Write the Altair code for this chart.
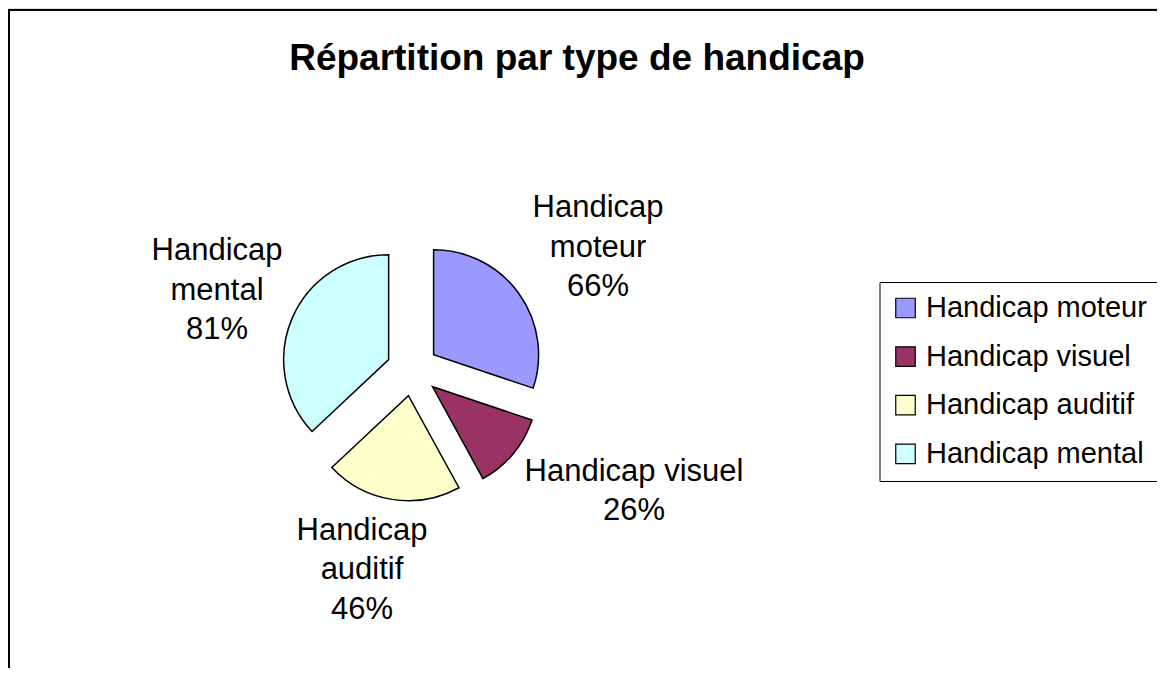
import altair as alt
import pandas as pd

# ---- data ----
TITLE = "Répartition par type de handicap"
CATS = ["Handicap moteur", "Handicap visuel", "Handicap auditif", "Handicap mental"]
VALUES = [66, 26, 46, 81]
COLORS = ["#9999FF", "#993366", "#FFFFCC", "#CCFFFF"]
ONE_LINE_NAME = ["Handicap visuel"]  # label where name is kept on one line

df = pd.DataFrame({"cat": CATS, "value": VALUES, "order": list(range(len(CATS)))})

# ---- layout ----
W, H = 1149, 660
CX, CY = 412.5 - 8, 370 - 8     # pie centre in view coordinates
R = 105                         # pie radius
EXPLODE = 26                    # explosion distance
LR = 170                        # label anchor radius
FONT = "Liberation Sans"
NUDGE = {
    "Handicap moteur": (47.6, -53.6),
    "Handicap visuel": (91, 2),
    "Handicap auditif": (-23.8, 2.1),
    "Handicap mental": (-39.5, -42.4),
}

xs = alt.Scale(domain=[-300, 300], range=[CX - 300, CX + 300], nice=False, zero=False)
ys = alt.Scale(domain=[-300, 300], range=[CY - 300, CY + 300], nice=False, zero=False)

base = (
    alt.Chart(df)
    .transform_joinaggregate(total="sum(value)")
    .transform_window(cum="sum(value)", sort=[alt.SortField("order")], frame=[None, 0])
    .transform_calculate(
        t0="(datum.cum - datum.value) / datum.total",
        t1="datum.cum / datum.total",
    )
    .transform_calculate(mid="(datum.t0 + datum.t1) * PI")
    .transform_calculate(
        ox=f"sin(datum.mid) * {EXPLODE}",
        oy=f"-cos(datum.mid) * {EXPLODE}",
        lx=f"sin(datum.mid) * {LR}",
        ly=f"-cos(datum.mid) * {LR}",
    )
)

pie = base.mark_arc(outerRadius=R, stroke="black", strokeWidth=1.5).encode(
    x=alt.X("ox:Q", scale=xs, axis=None),
    y=alt.Y("oy:Q", scale=ys, axis=None),
    theta=alt.Theta("t0:Q", scale=alt.Scale(domain=[0, 1], range=[0, 6.283185307179586]), stack=None),
    theta2="t1:Q",
    color=alt.Color(
        "cat:N",
        scale=alt.Scale(domain=CATS, range=COLORS),
        sort=CATS,
        legend=alt.Legend(
            title=None,
            orient="none",
            legendX=879.5 - 8,
            legendY=282 - 8,
            symbolType="square",
            symbolSize=380,
            symbolStrokeColor="black",
            symbolStrokeWidth=1.2,
            labelFont=FONT,
            labelFontSize=29,
            labelColor="black",
            labelOffset=6,
            labelLimit=500,
            rowPadding=18.6,
            padding=11.5,
            strokeColor="black",
            fillColor="white",
        ),
    ),
)

labels = []
for cat in CATS:
    dx, dy = NUDGE[cat]
    if cat in ONE_LINE_NAME:
        expr = "datum.cat + '|' + datum.value + '%'"
    else:
        expr = "replace(datum.cat, ' ', '|') + '|' + datum.value + '%'"
    labels.append(
        base.transform_filter(alt.datum.cat == cat)
        .transform_calculate(lab=expr)
        .mark_text(
            font=FONT, fontSize=31, color="black", align="center",
            baseline="alphabetic", lineBreak="|", lineHeight=39.5, dx=dx, dy=dy,
        )
        .encode(
            x=alt.X("lx:Q", scale=xs, axis=None),
            y=alt.Y("ly:Q", scale=ys, axis=None),
            text="lab:N",
        )
    )

tdata = alt.Data(values=[{"t": TITLE}])
title = alt.Chart(tdata).mark_text(
    font=FONT, fontSize=37, fontWeight="bold", color="black",
    align="center", baseline="alphabetic",
).encode(x=alt.value(577 - 8), y=alt.value(70 - 8), text="t:N")

top_rule = alt.Chart(tdata).mark_rule(color="black", strokeWidth=2).encode(
    x=alt.value(0), x2=alt.value(W), y=alt.value(2)
)
left_rule = alt.Chart(tdata).mark_rule(color="black", strokeWidth=2).encode(
    x=alt.value(1), y=alt.value(1), y2=alt.value(H)
)

chart = (
    alt.layer(top_rule, left_rule, pie, *labels, title)
    .properties(width=W, height=H, padding=0, autosize=alt.AutoSizeParams(type="none"))
    .configure_view(stroke=None)
    .configure(background="white")
)

chart.save("out.html", embed_options={"renderer": "svg", "actions": False})
